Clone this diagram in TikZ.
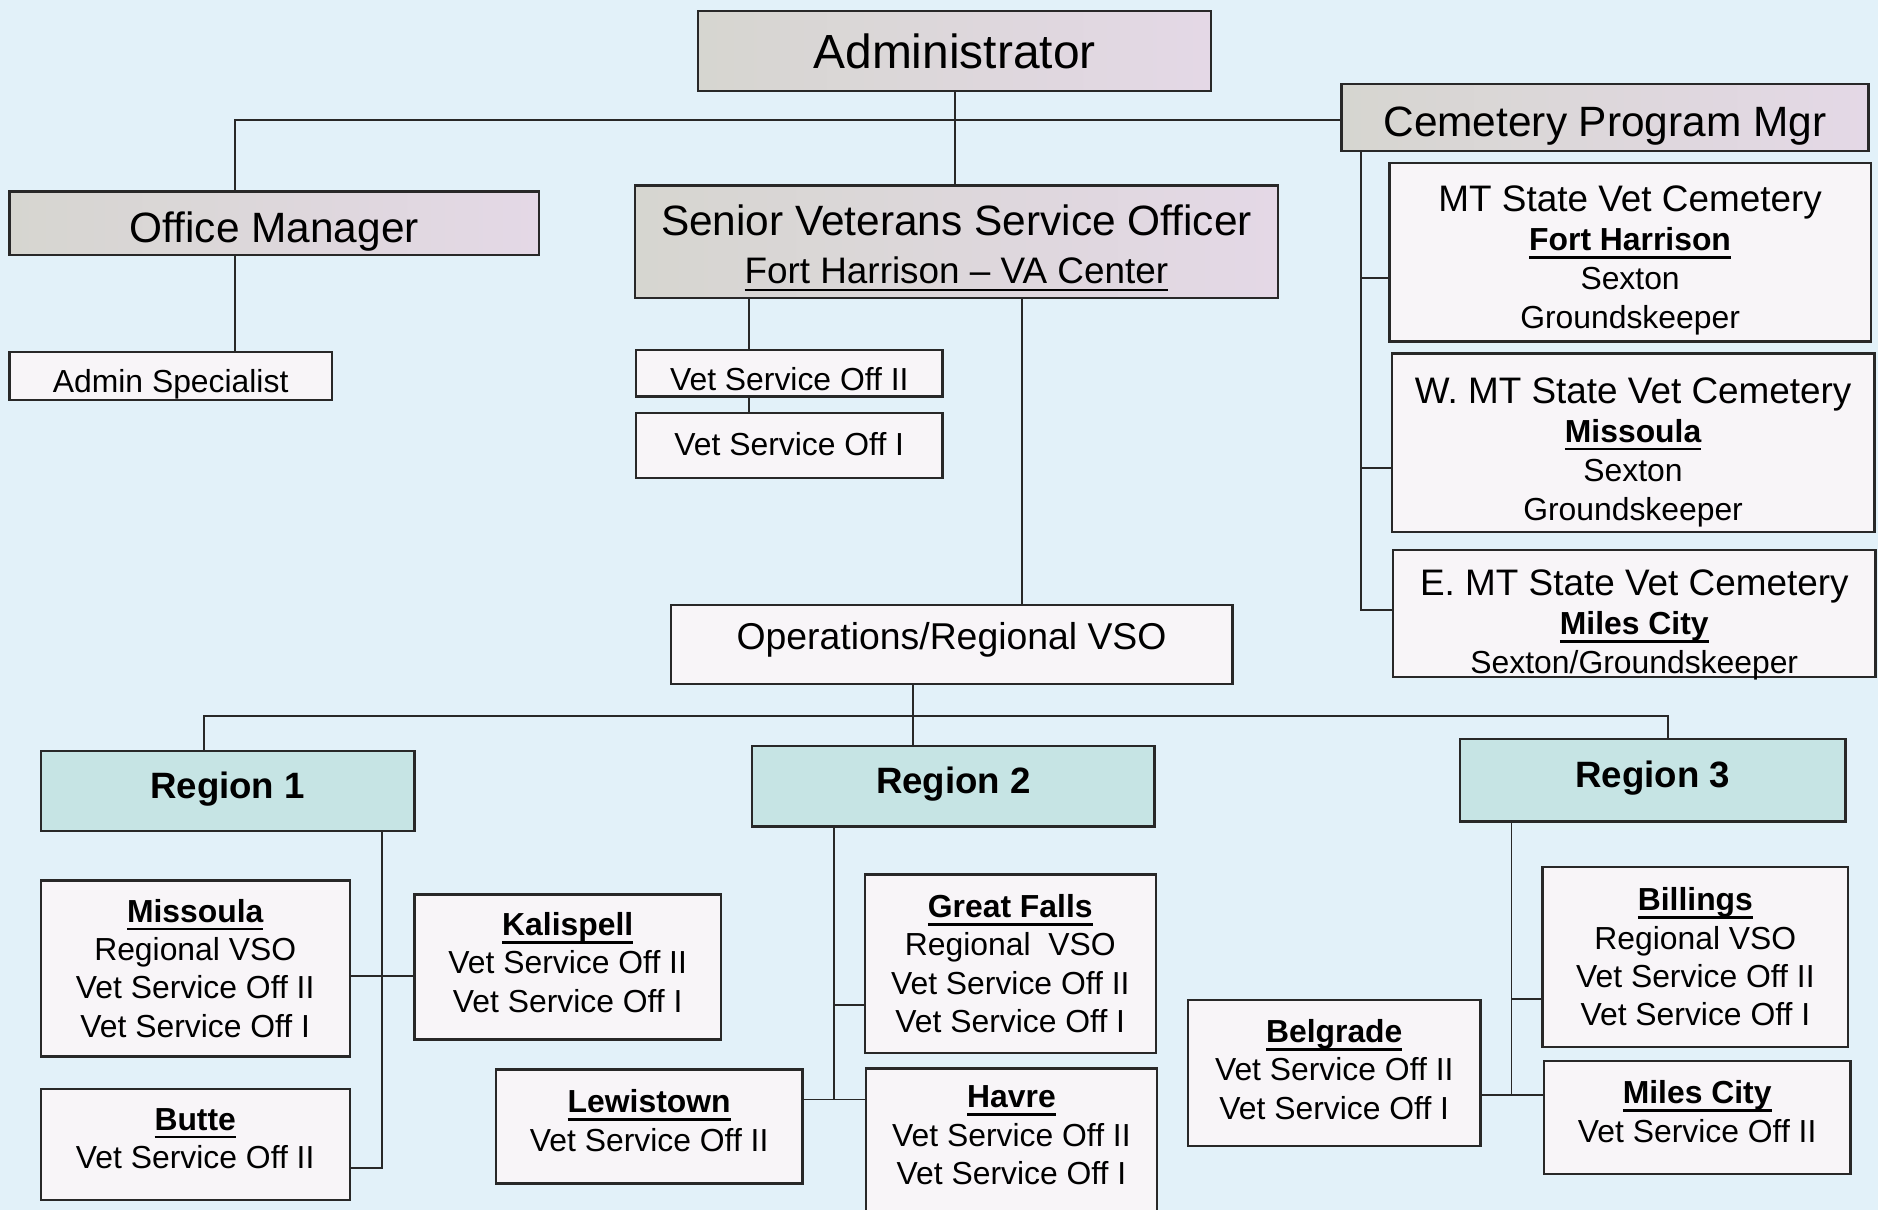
\documentclass[tikz,border=0pt]{standalone}
\usepackage{fontspec}
\setmainfont{Liberation Sans}
\usetikzlibrary{calc}
\definecolor{bgblue}{RGB}{226,241,249}
\definecolor{hdrL}{RGB}{214,214,208}
\definecolor{hdrR}{RGB}{228,216,230}
\definecolor{regfill}{RGB}{198,228,228}
\definecolor{boxfill}{RGB}{248,245,248}
\definecolor{edge}{RGB}{40,40,40}
\newcommand\ulb[2][1.1pt]{\setbox0=\hbox{#2}\leavevmode\rlap{\rule[-3.4pt]{\wd0}{#1}}\box0}
\newcommand\hd[1]{\textbf{\ulb{#1}}}
% name, x1, y1, x2, y2, box style, text options, text shift (px), text
\newcommand\bx[9]{%
  \node[#6, minimum width={(#4-#2)*0.5pt}, minimum height={(#5-#3)*0.5pt}] (#1) at ({(#2+#4)/2},{(#3+#5)/2}) {};
  \node[txt, #7] (#1t) at ($(#1.center)+(0,#8)$) {#9};}
\begin{document}
\begin{tikzpicture}[x=0.5pt,y=-0.5pt,
  hdr/.style={draw=edge, line width=1pt, left color=hdrL, right color=hdrR, inner sep=0pt},
  wbox/.style={draw=edge, line width=1pt, fill=boxfill, inner sep=0pt},
  reg/.style={draw=edge, line width=1pt, fill=regfill, inner sep=0pt},
  txt/.style={inner sep=0pt, align=center, font=\fontsize{13.3}{16}\selectfont},
  big/.style={font=\fontsize{17.7}{20}\selectfont},
  regt/.style={font=\bfseries\fontsize{15.3}{18}\selectfont},
  cem/.style={font=\fontsize{13.3}{16.3}\selectfont},
  conn/.style={draw=edge, line width=0.8pt}]
\fill[bgblue] (0,0) rectangle (1568,1010);
\useasboundingbox (0,0) rectangle (1568,1010);
% top part
\bx{admin}{583}{9}{1011}{76}{hdr}{font=\fontsize{20}{24}\selectfont}{0}{Administrator}
\bx{om}{8}{160}{450}{213}{hdr}{big}{7}{Office Manager}
\bx{as}{8}{294}{277}{334}{wbox}{}{7}{Admin Specialist}
\bx{svso}{530}{155}{1067}{249}{hdr}{big}{5}{Senior Veterans Service Officer\\{\fontsize{15.4}{20}\selectfont\ulb[0.9pt]{Fort Harrison -- VA Center}}}
\bx{v2}{531}{292}{787}{331}{wbox}{}{5}{Vet Service Off II}
\bx{v1}{531}{345}{787}{399}{wbox}{}{-1}{Vet Service Off I}
\bx{ops}{560}{505}{1029}{571}{wbox}{font=\fontsize{15.6}{18}\selectfont}{-4}{Operations/Regional VSO}
\bx{cpm}{1120}{70}{1560}{126}{hdr}{big}{7}{Cemetery Program Mgr}
\bx{c1}{1160}{136}{1562}{285}{wbox}{cem}{7}{{\fontsize{15.4}{16.3}\selectfont MT State Vet Cemetery}\\\hd{Fort Harrison}\\Sexton\\Groundskeeper}
\bx{c2}{1162}{295}{1565}{444}{wbox}{cem}{8}{{\fontsize{15.4}{16.3}\selectfont W. MT State Vet Cemetery}\\\hd{Missoula}\\Sexton\\Groundskeeper}
\bx{c3}{1163}{459}{1566}{565}{wbox}{cem}{10}{{\fontsize{15.4}{16.3}\selectfont E. MT State Vet Cemetery}\\\hd{Miles City}\\Sexton/Groundskeeper}
% regions
\bx{r1}{34}{627}{346}{694}{reg}{regt}{-2}{Region 1}
\bx{r2}{628}{623}{964}{690}{reg}{regt}{-2}{Region 2}
\bx{r3}{1219}{617}{1541}{686}{reg}{regt}{-2}{Region 3}
\bx{mis}{34}{735}{292}{882}{wbox}{}{0}{\hd{Missoula}\\Regional VSO\\Vet Service Off II\\Vet Service Off I}
\bx{kal}{346}{747}{602}{868}{wbox}{}{-4}{\hd{Kalispell}\\Vet Service Off II\\Vet Service Off I}
\bx{but}{34}{909}{292}{1002}{wbox}{}{-5}{\hd{Butte}\\Vet Service Off II}
\bx{lew}{414}{893}{670}{988}{wbox}{}{-5}{\hd{Lewistown}\\Vet Service Off II}
\bx{gf}{722}{730}{965}{879}{wbox}{}{0}{\hd{Great Falls}\\Regional\ \ VSO\\Vet Service Off II\\Vet Service Off I}
\bx{hav}{723}{892}{966}{1016}{wbox}{}{-6}{\hd{Havre}\\Vet Service Off II\\Vet Service Off I}
\bx{bil}{1288}{724}{1543}{874}{wbox}{}{0}{\hd{Billings}\\Regional VSO\\Vet Service Off II\\Vet Service Off I}
\bx{bel}{992}{835}{1236}{957}{wbox}{}{-3}{\hd{Belgrade}\\Vet Service Off II\\Vet Service Off I}
\bx{mc}{1289}{886}{1545}{980}{wbox}{}{-5}{\hd{Miles City}\\Vet Service Off II}
% connectors top
\coordinate (j1) at (196,100);
\draw[conn] (j1 -| cpm.west) -- (j1) -- (j1 |- om.north);
\draw[conn] (admin.south) -- (admin.south |- svso.north);
\draw[conn] (j1 |- om.south) -- (j1 |- as.north);
\coordinate (xv) at (625,0);
\draw[conn] (xv |- svso.south) -- (xv |- v2.north);
\draw[conn] (xv |- v2.south) -- (xv |- v1.north);
\coordinate (xo) at (853,0);
\draw[conn] (xo |- svso.south) -- (xo |- ops.north);
% cemetery
\coordinate (cx) at (1136,0);
\coordinate (ce1) at (1136,232);
\coordinate (ce2) at (1136,391);
\coordinate (ce3) at (1136,509);
\draw[conn] (cx |- cpm.south) -- (ce3) -- (ce3 -| c3.west);
\draw[conn] (ce1) -- (ce1 -| c1.west);
\draw[conn] (ce2) -- (ce2 -| c2.west);
% regions
\coordinate (rb) at (170,598);
\coordinate (rbend) at (1393,598);
\coordinate (ox) at (762,0);
\draw[conn] (ox |- ops.south) -- (ox |- r2.north);
\draw[conn] (rb |- r1.north) -- (rb) -- (rbend) -- (rbend |- r3.north);
% region 1
\coordinate (a1) at (319,815);
\coordinate (a2) at (319,975);
\draw[conn] (a1 |- r1.south) -- (a2) -- (a2 -| but.east);
\draw[conn] (a1 -| mis.east) -- (a1 -| kal.west);
% region 2
\coordinate (b1) at (696,839);
\coordinate (b2) at (696,918);
\draw[conn] (b1 |- r2.south) -- (b2);
\draw[conn] (b1) -- (b1 -| gf.west);
\draw[conn] (b2 -| lew.east) -- (b2 -| hav.west);
% region 3
\coordinate (d1) at (1262,834);
\coordinate (d2) at (1262,914);
\draw[conn] (d1 |- r3.south) -- (d2);
\draw[conn] (d1) -- (d1 -| bil.west);
\draw[conn] (d2 -| bel.east) -- (d2 -| mc.west);
\end{tikzpicture}
\end{document}
